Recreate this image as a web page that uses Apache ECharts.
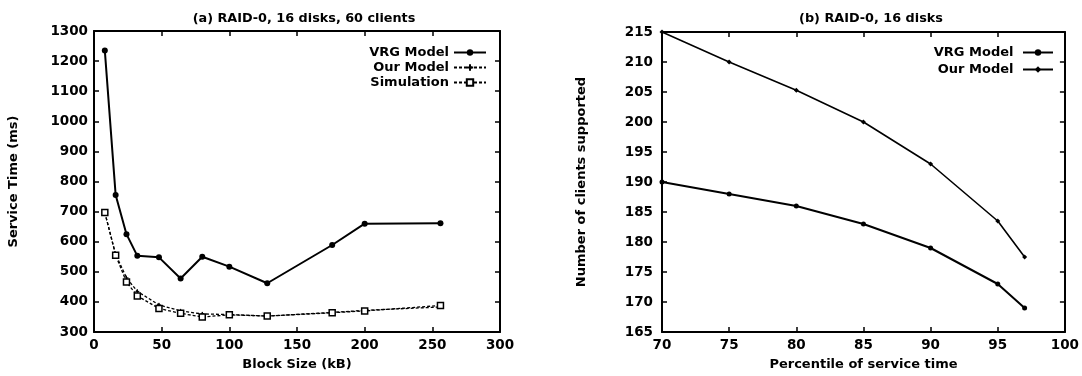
<!DOCTYPE html>
<html><head><meta charset="utf-8">
<script src="https://cdn.jsdelivr.net/npm/echarts@6/dist/echarts.min.js"></script>
<style>html,body{margin:0;padding:0;background:#fff}#c{width:1082px;height:376px}</style>
</head><body><div id="c"></div>
<script>
// Chart (a)
const blockSizes = [8, 16, 24, 32, 48, 64, 80, 100, 128, 176, 200, 256];
const vrgServiceTime = [1235, 755, 625, 553, 548, 478, 550, 517, 462, 589, 660, 661];
const ourServiceTime = [697, 558, 480, 435, 390, 370, 360, 358, 353, 365, 372, 383];
const simServiceTime = [697, 555, 466, 420, 378, 362, 350, 357, 353, 364, 370, 388];
// Chart (b)
const percentiles = [70, 75, 80, 85, 90, 95, 97];
const vrgClients = [190, 188, 186, 183, 179, 173, 169];
const ourClients = [215, 210, 205.3, 200, 193, 183.5, 177.5];

const zip = (xs, ys) => xs.map((x, i) => [x, ys[i]]);
const FONT = 'DejaVu Sans';
const tickLbl = {color: '#000', fontFamily: FONT, fontWeight: 'bold', fontSize: 13.5};
const legLbl = {color: '#000', fontFamily: FONT, fontWeight: 'bold', fontSize: 13};
const plus = 'path://M0,5L10,5M5,0L5,10Z';

function axis(grid, pos, min, max, interval, showLabel, name, nameGap, margin) {
  return {
    type: 'value', gridIndex: grid, position: pos, min: min, max: max, interval: interval,
    name: name || '', nameLocation: 'middle', nameGap: nameGap || 0,
    nameTextStyle: {color: '#000', fontFamily: FONT, fontWeight: 'bold', fontSize: 13},
    axisLine: {show: true, onZero: false, lineStyle: {color: '#000', width: 2}},
    axisTick: {show: true, inside: true, length: 5, lineStyle: {color: '#000', width: 1.5}},
    axisLabel: Object.assign({show: showLabel, margin: margin || 8, formatter: v => String(v)}, tickLbl),
    splitLine: {show: false}
  };
}

const chart = echarts.init(document.getElementById('c'), null, {renderer: 'canvas'});
chart.setOption({
  animation: false,
  backgroundColor: '#fff',
  title: [
    {text: '(a) RAID-0, 16 disks, 60 clients', left: 299, top: 7, textAlign: 'center',
     textStyle: {color: '#000', fontFamily: FONT, fontWeight: 'bold', fontSize: 12.8}},
    {text: '(b) RAID-0, 16 disks', left: 866, top: 7, textAlign: 'center',
     textStyle: {color: '#000', fontFamily: FONT, fontWeight: 'bold', fontSize: 12.8}}
  ],
  legend: [
    {orient: 'vertical', align: 'right', right: 590, top: 41, itemWidth: 32, itemHeight: 8, itemGap: 2,
     data: ['VRG Model', 'Our Model', 'Simulation'],
     textStyle: legLbl, selectedMode: false, z: 10},
    {orient: 'vertical', align: 'right', right: 23, top: 41, itemWidth: 30, itemHeight: 8, itemGap: 4,
     data: ['VRG Model ', 'Our Model '],
     textStyle: legLbl, selectedMode: false, z: 10}
  ],
  grid: [
    {left: 94, right: 582, top: 31, bottom: 43},
    {left: 662, right: 16, top: 32, bottom: 42}
  ],
  xAxis: [
    axis(0, 'bottom', 0, 300, 50, true, 'Block Size (kB)', 26, 6),
    axis(0, 'top', 0, 300, 50, false),
    axis(1, 'bottom', 70, 100, 5, true, 'Percentile of service time', 26, 6),
    axis(1, 'top', 70, 100, 5, false)
  ],
  yAxis: [
    axis(0, 'left', 300, 1300, 100, true, 'Service Time (ms)', 74, 6),
    axis(0, 'right', 300, 1300, 100, false),
    axis(1, 'left', 165, 215, 5, true, 'Number of clients supported', 74, 9),
    axis(1, 'right', 165, 215, 5, false)
  ],
  series: [
    {name: 'VRG Model', type: 'line', xAxisIndex: 0, yAxisIndex: 0, data: zip(blockSizes, vrgServiceTime),
     symbol: 'circle', symbolSize: 6, lineStyle: {color: '#000', width: 2}, itemStyle: {color: '#000'}},
    {name: 'Our Model', type: 'line', xAxisIndex: 0, yAxisIndex: 0, data: zip(blockSizes, ourServiceTime),
     symbol: plus, symbolSize: 4, lineStyle: {color: '#000', width: 1.3, type: [3, 2]}, itemStyle: {color: '#000', borderColor: '#000', borderWidth: 1}},
    {name: 'Simulation', type: 'line', xAxisIndex: 0, yAxisIndex: 0, data: zip(blockSizes, simServiceTime),
     symbol: 'rect', symbolSize: 6, lineStyle: {color: '#000', width: 1.3, type: [3, 2]}, itemStyle: {color: '#fff', borderColor: '#000', borderWidth: 1.5}},
    {name: 'VRG Model ', type: 'line', xAxisIndex: 2, yAxisIndex: 2, data: zip(percentiles, vrgClients),
     symbol: 'circle', symbolSize: 5, lineStyle: {color: '#000', width: 2}, itemStyle: {color: '#000'}},
    {name: 'Our Model ', type: 'line', xAxisIndex: 2, yAxisIndex: 2, data: zip(percentiles, ourClients),
     symbol: 'diamond', symbolSize: 5, lineStyle: {color: '#000', width: 1.6}, itemStyle: {color: '#000'}}
  ]
});
</script></body></html>
